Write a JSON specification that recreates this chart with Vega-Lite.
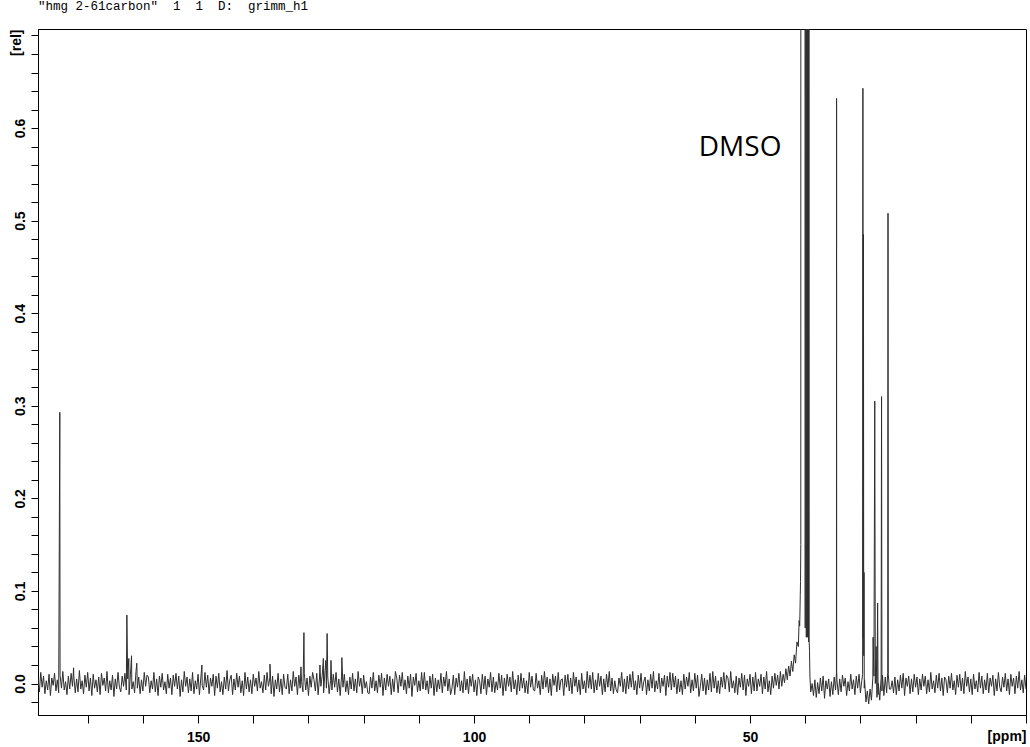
{
"$schema": "https://vega.github.io/schema/vega-lite/v6.json",
"width": 988,
"height": 686,
"autosize": {"type": "none"},
"padding": {"left": 38, "top": 29, "right": 4, "bottom": 32},
"background": "white",
"title": {"text": "\"hmg 2-61carbon\"\u00a0\u00a01\u00a0\u00a01\u00a0\u00a0D:\u00a0\u00a0grimm_h1", "anchor": "start", "frame": "group", "font": "Liberation Mono", "fontSize": 12.5, "fontWeight": "normal", "color": "black", "offset": 7, "baseline": "alphabetic"},
"config": {"view": {"stroke": "black", "strokeWidth": 1}, "font": "Liberation Sans"},
"data": {"values": [
{"ppm":179,"rel":0.005},{"ppm":178.75,"rel":-0.009},{"ppm":178.5,"rel":0.012},{"ppm":178.25,"rel":-0.004},{"ppm":178,"rel":0.008},{"ppm":177.75,"rel":-0.011},{"ppm":177.5,"rel":0.003},{"ppm":177.25,"rel":-0.007},{"ppm":177,"rel":0.01},{"ppm":176.75,"rel":-0.013},{"ppm":176.5,"rel":0.006},{"ppm":176.25,"rel":-0.002},{"ppm":176,"rel":0.011},{"ppm":175.75,"rel":-0.008},{"ppm":175.5,"rel":0.004},{"ppm":175.25,"rel":-0.01},{"ppm":175,"rel":0.009},{"ppm":174.75,"rel":-0.005},{"ppm":174.5,"rel":0.013},{"ppm":174.25,"rel":-0.007},
{"ppm":174,"rel":0.002},{"ppm":173.75,"rel":-0.012},{"ppm":173.5,"rel":0.008},{"ppm":173.25,"rel":-0.006},{"ppm":173,"rel":0.011},{"ppm":172.75,"rel":-0.003},{"ppm":172.5,"rel":0.007},{"ppm":172.25,"rel":-0.01},{"ppm":172,"rel":0.005},{"ppm":171.75,"rel":-0.009},{"ppm":171.5,"rel":0.014},{"ppm":171.25,"rel":-0.006},{"ppm":171,"rel":0.003},{"ppm":170.75,"rel":-0.011},{"ppm":170.5,"rel":0.009},{"ppm":170.25,"rel":-0.004},{"ppm":170,"rel":0.012},{"ppm":169.75,"rel":-0.008},{"ppm":169.5,"rel":0.006},{"ppm":169.25,"rel":-0.013},
{"ppm":169,"rel":0.01},{"ppm":168.75,"rel":-0.005},{"ppm":168.5,"rel":0.004},{"ppm":168.25,"rel":-0.009},{"ppm":168,"rel":0.007},{"ppm":167.75,"rel":-0.012},{"ppm":167.5,"rel":0.011},{"ppm":167.25,"rel":-0.002},{"ppm":167,"rel":0.006},{"ppm":166.75,"rel":-0.008},{"ppm":166.5,"rel":0.013},{"ppm":166.25,"rel":-0.01},{"ppm":166,"rel":0.003},{"ppm":165.75,"rel":-0.007},{"ppm":165.5,"rel":0.009},{"ppm":165.25,"rel":-0.014},{"ppm":165,"rel":0.005},{"ppm":164.75,"rel":-0.006},{"ppm":164.5,"rel":0.012},{"ppm":164.25,"rel":-0.004},
{"ppm":164,"rel":-0.009},{"ppm":163.75,"rel":0.008},{"ppm":163.5,"rel":-0.003},{"ppm":163.25,"rel":0.011},{"ppm":163,"rel":-0.007},{"ppm":162.75,"rel":0.005},{"ppm":162.5,"rel":-0.012},{"ppm":162.25,"rel":0.01},{"ppm":162,"rel":-0.006},{"ppm":161.75,"rel":0.002},{"ppm":161.5,"rel":-0.01},{"ppm":161.25,"rel":0.013},{"ppm":161,"rel":-0.005},{"ppm":160.75,"rel":0.007},{"ppm":160.5,"rel":-0.011},{"ppm":160.25,"rel":0.004},{"ppm":160,"rel":-0.008},{"ppm":159.75,"rel":0.012},{"ppm":159.5,"rel":-0.003},{"ppm":159.25,"rel":0.009},
{"ppm":159,"rel":0.007},{"ppm":158.75,"rel":-0.01},{"ppm":158.5,"rel":0.003},{"ppm":158.25,"rel":-0.006},{"ppm":158,"rel":0.012},{"ppm":157.75,"rel":-0.009},{"ppm":157.5,"rel":0.005},{"ppm":157.25,"rel":-0.013},{"ppm":157,"rel":0.008},{"ppm":156.75,"rel":-0.004},{"ppm":156.5,"rel":0.011},{"ppm":156.25,"rel":-0.007},{"ppm":156,"rel":0.002},{"ppm":155.75,"rel":-0.011},{"ppm":155.5,"rel":0.01},{"ppm":155.25,"rel":-0.005},{"ppm":155,"rel":0.006},{"ppm":154.75,"rel":-0.012},{"ppm":154.5,"rel":0.009},{"ppm":154.25,"rel":-0.003},
{"ppm":154,"rel":0.011},{"ppm":153.75,"rel":-0.006},{"ppm":153.5,"rel":0.008},{"ppm":153.25,"rel":-0.014},{"ppm":153,"rel":0.004},{"ppm":152.75,"rel":-0.009},{"ppm":152.5,"rel":0.013},{"ppm":152.25,"rel":-0.003},{"ppm":152,"rel":0.007},{"ppm":151.75,"rel":-0.01},{"ppm":151.5,"rel":0.005},{"ppm":151.25,"rel":-0.008},{"ppm":151,"rel":0.012},{"ppm":150.75,"rel":-0.011},{"ppm":150.5,"rel":0.003},{"ppm":150.25,"rel":-0.006},{"ppm":150,"rel":0.01},{"ppm":149.75,"rel":-0.012},{"ppm":149.5,"rel":0.006},{"ppm":149.25,"rel":-0.002},
{"ppm":149,"rel":-0.007},{"ppm":148.75,"rel":0.012},{"ppm":148.5,"rel":-0.004},{"ppm":148.25,"rel":0.009},{"ppm":148,"rel":-0.011},{"ppm":147.75,"rel":0.006},{"ppm":147.5,"rel":-0.003},{"ppm":147.25,"rel":0.01},{"ppm":147,"rel":-0.013},{"ppm":146.75,"rel":0.008},{"ppm":146.5,"rel":-0.005},{"ppm":146.25,"rel":0.011},{"ppm":146,"rel":-0.009},{"ppm":145.75,"rel":0.002},{"ppm":145.5,"rel":-0.012},{"ppm":145.25,"rel":0.007},{"ppm":145,"rel":-0.006},{"ppm":144.75,"rel":0.014},{"ppm":144.5,"rel":-0.008},{"ppm":144.25,"rel":0.004},
{"ppm":144,"rel":0.009},{"ppm":143.75,"rel":-0.012},{"ppm":143.5,"rel":0.005},{"ppm":143.25,"rel":-0.007},{"ppm":143,"rel":0.011},{"ppm":142.75,"rel":-0.004},{"ppm":142.5,"rel":0.008},{"ppm":142.25,"rel":-0.01},{"ppm":142,"rel":0.003},{"ppm":141.75,"rel":-0.013},{"ppm":141.5,"rel":0.012},{"ppm":141.25,"rel":-0.006},{"ppm":141,"rel":0.007},{"ppm":140.75,"rel":-0.009},{"ppm":140.5,"rel":0.004},{"ppm":140.25,"rel":-0.011},{"ppm":140,"rel":0.01},{"ppm":139.75,"rel":-0.003},{"ppm":139.5,"rel":0.006},{"ppm":139.25,"rel":-0.008},
{"ppm":139,"rel":0.013},{"ppm":138.75,"rel":-0.005},{"ppm":138.5,"rel":0.002},{"ppm":138.25,"rel":-0.01},{"ppm":138,"rel":0.009},{"ppm":137.75,"rel":-0.007},{"ppm":137.5,"rel":0.012},{"ppm":137.25,"rel":-0.003},{"ppm":137,"rel":0.006},{"ppm":136.75,"rel":-0.011},{"ppm":136.5,"rel":0.008},{"ppm":136.25,"rel":-0.014},{"ppm":136,"rel":0.004},{"ppm":135.75,"rel":-0.006},{"ppm":135.5,"rel":0.011},{"ppm":135.25,"rel":-0.009},{"ppm":135,"rel":0.005},{"ppm":134.75,"rel":-0.012},{"ppm":134.5,"rel":0.01},{"ppm":134.25,"rel":-0.004},
{"ppm":134,"rel":-0.006},{"ppm":133.75,"rel":0.01},{"ppm":133.5,"rel":-0.011},{"ppm":133.25,"rel":0.004},{"ppm":133,"rel":-0.008},{"ppm":132.75,"rel":0.013},{"ppm":132.5,"rel":-0.003},{"ppm":132.25,"rel":0.007},{"ppm":132,"rel":-0.012},{"ppm":131.75,"rel":0.009},{"ppm":131.5,"rel":-0.005},{"ppm":131.25,"rel":0.002},{"ppm":131,"rel":-0.009},{"ppm":130.75,"rel":0.011},{"ppm":130.5,"rel":-0.007},{"ppm":130.25,"rel":0.006},{"ppm":130,"rel":-0.013},{"ppm":129.75,"rel":0.008},{"ppm":129.5,"rel":-0.004},{"ppm":129.25,"rel":0.012},
{"ppm":129,"rel":0.004},{"ppm":128.75,"rel":-0.008},{"ppm":128.5,"rel":0.011},{"ppm":128.25,"rel":-0.012},{"ppm":128,"rel":0.006},{"ppm":127.75,"rel":-0.003},{"ppm":127.5,"rel":0.009},{"ppm":127.25,"rel":-0.01},{"ppm":127,"rel":0.014},{"ppm":126.75,"rel":-0.005},{"ppm":126.5,"rel":0.007},{"ppm":126.25,"rel":-0.011},{"ppm":126,"rel":0.003},{"ppm":125.75,"rel":-0.007},{"ppm":125.5,"rel":0.01},{"ppm":125.25,"rel":-0.004},{"ppm":125,"rel":0.012},{"ppm":124.75,"rel":-0.009},{"ppm":124.5,"rel":0.005},{"ppm":124.25,"rel":-0.013},
{"ppm":124,"rel":0.008},{"ppm":123.75,"rel":-0.004},{"ppm":123.5,"rel":0.01},{"ppm":123.25,"rel":-0.009},{"ppm":123,"rel":0.003},{"ppm":122.75,"rel":-0.012},{"ppm":122.5,"rel":0.007},{"ppm":122.25,"rel":-0.006},{"ppm":122,"rel":0.011},{"ppm":121.75,"rel":-0.008},{"ppm":121.5,"rel":0.005},{"ppm":121.25,"rel":-0.01},{"ppm":121,"rel":0.013},{"ppm":120.75,"rel":-0.003},{"ppm":120.5,"rel":0.006},{"ppm":120.25,"rel":-0.011},{"ppm":120,"rel":0.009},{"ppm":119.75,"rel":-0.005},{"ppm":119.5,"rel":0.002},{"ppm":119.25,"rel":-0.01},
{"ppm":119,"rel":-0.011},{"ppm":118.75,"rel":0.007},{"ppm":118.5,"rel":-0.005},{"ppm":118.25,"rel":0.012},{"ppm":118,"rel":-0.008},{"ppm":117.75,"rel":0.003},{"ppm":117.5,"rel":-0.01},{"ppm":117.25,"rel":0.009},{"ppm":117,"rel":-0.004},{"ppm":116.75,"rel":0.011},{"ppm":116.5,"rel":-0.013},{"ppm":116.25,"rel":0.006},{"ppm":116,"rel":-0.007},{"ppm":115.75,"rel":0.01},{"ppm":115.5,"rel":-0.003},{"ppm":115.25,"rel":0.008},{"ppm":115,"rel":-0.012},{"ppm":114.75,"rel":0.005},{"ppm":114.5,"rel":-0.009},{"ppm":114.25,"rel":0.013},
{"ppm":114,"rel":0.006},{"ppm":113.75,"rel":-0.01},{"ppm":113.5,"rel":0.009},{"ppm":113.25,"rel":-0.003},{"ppm":113,"rel":0.012},{"ppm":112.75,"rel":-0.007},{"ppm":112.5,"rel":0.004},{"ppm":112.25,"rel":-0.011},{"ppm":112,"rel":0.008},{"ppm":111.75,"rel":-0.005},{"ppm":111.5,"rel":0.01},{"ppm":111.25,"rel":-0.014},{"ppm":111,"rel":0.007},{"ppm":110.75,"rel":-0.002},{"ppm":110.5,"rel":0.011},{"ppm":110.25,"rel":-0.009},{"ppm":110,"rel":0.003},{"ppm":109.75,"rel":-0.008},{"ppm":109.5,"rel":0.012},{"ppm":109.25,"rel":-0.006},
{"ppm":109,"rel":0.012},{"ppm":108.75,"rel":-0.007},{"ppm":108.5,"rel":0.003},{"ppm":108.25,"rel":-0.011},{"ppm":108,"rel":0.008},{"ppm":107.75,"rel":-0.005},{"ppm":107.5,"rel":0.01},{"ppm":107.25,"rel":-0.013},{"ppm":107,"rel":0.006},{"ppm":106.75,"rel":-0.009},{"ppm":106.5,"rel":0.004},{"ppm":106.25,"rel":-0.006},{"ppm":106,"rel":0.011},{"ppm":105.75,"rel":-0.01},{"ppm":105.5,"rel":0.007},{"ppm":105.25,"rel":-0.003},{"ppm":105,"rel":0.013},{"ppm":104.75,"rel":-0.008},{"ppm":104.5,"rel":0.005},{"ppm":104.25,"rel":-0.012},
{"ppm":104,"rel":-0.005},{"ppm":103.75,"rel":0.009},{"ppm":103.5,"rel":-0.012},{"ppm":103.25,"rel":0.006},{"ppm":103,"rel":-0.004},{"ppm":102.75,"rel":0.011},{"ppm":102.5,"rel":-0.008},{"ppm":102.25,"rel":0.003},{"ppm":102,"rel":-0.01},{"ppm":101.75,"rel":0.013},{"ppm":101.5,"rel":-0.007},{"ppm":101.25,"rel":0.005},{"ppm":101,"rel":-0.011},{"ppm":100.75,"rel":0.008},{"ppm":100.5,"rel":-0.003},{"ppm":100.25,"rel":0.01},{"ppm":100,"rel":-0.009},{"ppm":99.75,"rel":0.004},{"ppm":99.5,"rel":-0.013},{"ppm":99.25,"rel":0.007},
{"ppm":99,"rel":0.003},{"ppm":98.75,"rel":-0.011},{"ppm":98.5,"rel":0.01},{"ppm":98.25,"rel":-0.006},{"ppm":98,"rel":0.008},{"ppm":97.75,"rel":-0.012},{"ppm":97.5,"rel":0.005},{"ppm":97.25,"rel":-0.004},{"ppm":97,"rel":0.012},{"ppm":96.75,"rel":-0.009},{"ppm":96.5,"rel":0.007},{"ppm":96.25,"rel":-0.01},{"ppm":96,"rel":0.002},{"ppm":95.75,"rel":-0.007},{"ppm":95.5,"rel":0.011},{"ppm":95.25,"rel":-0.005},{"ppm":95,"rel":0.009},{"ppm":94.75,"rel":-0.013},{"ppm":94.5,"rel":0.006},{"ppm":94.25,"rel":-0.008},
{"ppm":94,"rel":0.01},{"ppm":93.75,"rel":-0.003},{"ppm":93.5,"rel":0.007},{"ppm":93.25,"rel":-0.009},{"ppm":93,"rel":0.013},{"ppm":92.75,"rel":-0.006},{"ppm":92.5,"rel":0.004},{"ppm":92.25,"rel":-0.012},{"ppm":92,"rel":0.009},{"ppm":91.75,"rel":-0.008},{"ppm":91.5,"rel":0.011},{"ppm":91.25,"rel":-0.005},{"ppm":91,"rel":0.006},{"ppm":90.75,"rel":-0.01},{"ppm":90.5,"rel":0.003},{"ppm":90.25,"rel":-0.011},{"ppm":90,"rel":0.012},{"ppm":89.75,"rel":-0.004},{"ppm":89.5,"rel":0.008},{"ppm":89.25,"rel":-0.007},
{"ppm":89,"rel":-0.008},{"ppm":88.75,"rel":0.011},{"ppm":88.5,"rel":-0.005},{"ppm":88.25,"rel":0.003},{"ppm":88,"rel":-0.012},{"ppm":87.75,"rel":0.009},{"ppm":87.5,"rel":-0.006},{"ppm":87.25,"rel":0.013},{"ppm":87,"rel":-0.004},{"ppm":86.75,"rel":0.007},{"ppm":86.5,"rel":-0.01},{"ppm":86.25,"rel":0.005},{"ppm":86,"rel":-0.013},{"ppm":85.75,"rel":0.01},{"ppm":85.5,"rel":-0.002},{"ppm":85.25,"rel":0.008},{"ppm":85,"rel":-0.009},{"ppm":84.75,"rel":0.012},{"ppm":84.5,"rel":-0.007},{"ppm":84.25,"rel":0.004},
{"ppm":84,"rel":0.005},{"ppm":83.75,"rel":-0.013},{"ppm":83.5,"rel":0.009},{"ppm":83.25,"rel":-0.004},{"ppm":83,"rel":0.01},{"ppm":82.75,"rel":-0.008},{"ppm":82.5,"rel":0.006},{"ppm":82.25,"rel":-0.011},{"ppm":82,"rel":0.012},{"ppm":81.75,"rel":-0.003},{"ppm":81.5,"rel":0.007},{"ppm":81.25,"rel":-0.009},{"ppm":81,"rel":0.004},{"ppm":80.75,"rel":-0.012},{"ppm":80.5,"rel":0.011},{"ppm":80.25,"rel":-0.006},{"ppm":80,"rel":0.003},{"ppm":79.75,"rel":-0.01},{"ppm":79.5,"rel":0.013},{"ppm":79.25,"rel":-0.005},
{"ppm":79,"rel":0.009},{"ppm":78.75,"rel":-0.006},{"ppm":78.5,"rel":0.012},{"ppm":78.25,"rel":-0.01},{"ppm":78,"rel":0.004},{"ppm":77.75,"rel":-0.007},{"ppm":77.5,"rel":0.011},{"ppm":77.25,"rel":-0.003},{"ppm":77,"rel":0.008},{"ppm":76.75,"rel":-0.012},{"ppm":76.5,"rel":0.005},{"ppm":76.25,"rel":-0.009},{"ppm":76,"rel":0.01},{"ppm":75.75,"rel":-0.004},{"ppm":75.5,"rel":0.013},{"ppm":75.25,"rel":-0.008},{"ppm":75,"rel":0.006},{"ppm":74.75,"rel":-0.011},{"ppm":74.5,"rel":0.003},{"ppm":74.25,"rel":-0.007},
{"ppm":74,"rel":-0.01},{"ppm":73.75,"rel":0.006},{"ppm":73.5,"rel":-0.003},{"ppm":73.25,"rel":0.012},{"ppm":73,"rel":-0.009},{"ppm":72.75,"rel":0.005},{"ppm":72.5,"rel":-0.011},{"ppm":72.25,"rel":0.008},{"ppm":72,"rel":-0.006},{"ppm":71.75,"rel":0.01},{"ppm":71.5,"rel":-0.004},{"ppm":71.25,"rel":0.013},{"ppm":71,"rel":-0.007},{"ppm":70.75,"rel":0.003},{"ppm":70.5,"rel":-0.012},{"ppm":70.25,"rel":0.009},{"ppm":70,"rel":-0.005},{"ppm":69.75,"rel":0.011},{"ppm":69.5,"rel":-0.008},{"ppm":69.25,"rel":0.002},
{"ppm":69,"rel":0.007},{"ppm":68.75,"rel":-0.012},{"ppm":68.5,"rel":0.004},{"ppm":68.25,"rel":-0.008},{"ppm":68,"rel":0.01},{"ppm":67.75,"rel":-0.005},{"ppm":67.5,"rel":0.013},{"ppm":67.25,"rel":-0.009},{"ppm":67,"rel":0.003},{"ppm":66.75,"rel":-0.006},{"ppm":66.5,"rel":0.011},{"ppm":66.25,"rel":-0.01},{"ppm":66,"rel":0.006},{"ppm":65.75,"rel":-0.003},{"ppm":65.5,"rel":0.009},{"ppm":65.25,"rel":-0.013},{"ppm":65,"rel":0.008},{"ppm":64.75,"rel":-0.004},{"ppm":64.5,"rel":0.012},{"ppm":64.25,"rel":-0.007},
{"ppm":64,"rel":0.011},{"ppm":63.75,"rel":-0.004},{"ppm":63.5,"rel":0.008},{"ppm":63.25,"rel":-0.011},{"ppm":63,"rel":0.005},{"ppm":62.75,"rel":-0.009},{"ppm":62.5,"rel":0.003},{"ppm":62.25,"rel":-0.012},{"ppm":62,"rel":0.01},{"ppm":61.75,"rel":-0.006},{"ppm":61.5,"rel":0.007},{"ppm":61.25,"rel":-0.003},{"ppm":61,"rel":0.012},{"ppm":60.75,"rel":-0.01},{"ppm":60.5,"rel":0.004},{"ppm":60.25,"rel":-0.008},{"ppm":60,"rel":0.011},{"ppm":59.75,"rel":-0.005},{"ppm":59.5,"rel":0.009},{"ppm":59.25,"rel":-0.014},
{"ppm":59,"rel":-0.003},{"ppm":58.75,"rel":0.01},{"ppm":58.5,"rel":-0.008},{"ppm":58.25,"rel":0.006},{"ppm":58,"rel":-0.012},{"ppm":57.75,"rel":0.004},{"ppm":57.5,"rel":-0.007},{"ppm":57.25,"rel":0.011},{"ppm":57,"rel":-0.009},{"ppm":56.75,"rel":0.013},{"ppm":56.5,"rel":-0.005},{"ppm":56.25,"rel":0.008},{"ppm":56,"rel":-0.01},{"ppm":55.75,"rel":0.003},{"ppm":55.5,"rel":-0.011},{"ppm":55.25,"rel":0.007},{"ppm":55,"rel":-0.004},{"ppm":54.75,"rel":0.012},{"ppm":54.5,"rel":-0.006},{"ppm":54.25,"rel":0.009},
{"ppm":54,"rel":0.006},{"ppm":53.75,"rel":-0.009},{"ppm":53.5,"rel":0.013},{"ppm":53.25,"rel":-0.005},{"ppm":53,"rel":0.003},{"ppm":52.75,"rel":-0.01},{"ppm":52.5,"rel":0.008},{"ppm":52.25,"rel":-0.012},{"ppm":52,"rel":0.006},{"ppm":51.75,"rel":-0.004},{"ppm":51.5,"rel":0.011},{"ppm":51.25,"rel":-0.007},{"ppm":51,"rel":0.009},{"ppm":50.75,"rel":-0.013},{"ppm":50.5,"rel":0.005},{"ppm":50.25,"rel":-0.003},{"ppm":50,"rel":0.01},{"ppm":49.75,"rel":-0.011},{"ppm":49.5,"rel":0.007},{"ppm":49.25,"rel":-0.008},
{"ppm":49,"rel":0.012},{"ppm":48.75,"rel":-0.008},{"ppm":48.5,"rel":0.005},{"ppm":48.25,"rel":-0.003},{"ppm":48,"rel":0.01},{"ppm":47.75,"rel":-0.011},{"ppm":47.5,"rel":0.007},{"ppm":47.25,"rel":-0.006},{"ppm":47,"rel":0.013},{"ppm":46.75,"rel":-0.009},{"ppm":46.5,"rel":0.003},{"ppm":46.25,"rel":-0.012},{"ppm":46,"rel":0.008},{"ppm":45.75,"rel":-0.005},{"ppm":45.5,"rel":0.011},{"ppm":45.25,"rel":-0.002},{"ppm":45,"rel":0.009},{"ppm":44.75,"rel":-0.006},{"ppm":44.5,"rel":0.013},{"ppm":44.25,"rel":-0.003},
{"ppm":44,"rel":0.01},{"ppm":43.75,"rel":0.001},
{"ppm":43.5,"rel":0.016},{"ppm":43.25,"rel":0.004},{"ppm":43,"rel":0.019},{"ppm":42.75,"rel":0.008},{"ppm":42.5,"rel":0.024},{"ppm":42.25,"rel":0.013},{"ppm":42,"rel":0.031},{"ppm":41.75,"rel":0.022},{"ppm":41.5,"rel":0.045},{"ppm":41.25,"rel":0.04},{"ppm":41.1,"rel":0.068},{"ppm":41,"rel":0.062},{"ppm":40.9,"rel":0.095},{"ppm":40.85,"rel":0.11},{"ppm":40.8,"rel":0.15},{"ppm":40.75,"rel":6},{"ppm":40.1,"rel":6},{"ppm":40,"rel":0.06},{"ppm":39.9,"rel":6},{"ppm":39.8,"rel":0.05},{"ppm":39.7,"rel":6},{"ppm":39.6,"rel":0.05},{"ppm":39.5,"rel":6},{"ppm":39.4,"rel":0.045},{"ppm":39.35,"rel":6},{"ppm":39.28,"rel":0.045},{"ppm":39.22,"rel":0.035},{"ppm":39.15,"rel":0.008},
{"ppm":39,"rel":-0.009},{"ppm":38.75,"rel":0},{"ppm":38.5,"rel":-0.013},{"ppm":38.25,"rel":0.004},{"ppm":38,"rel":-0.015},{"ppm":37.75,"rel":0.001},{"ppm":37.5,"rel":-0.011},{"ppm":37.25,"rel":0.006},{"ppm":37,"rel":-0.008},{"ppm":36.75,"rel":0.008},{"ppm":36.5,"rel":-0.016},{"ppm":36.25,"rel":0.003},{"ppm":36,"rel":-0.006},{"ppm":35.75,"rel":0.005},{"ppm":35.5,"rel":-0.014},{"ppm":35.25,"rel":0.002},{"ppm":35,"rel":-0.012},{"ppm":34.75,"rel":0.007},{"ppm":34.5,"rel":-0.007},{"ppm":34.34,"rel":0.012},{"ppm":34.32,"rel":0.632},{"ppm":34.3,"rel":0.014},{"ppm":34.25,"rel":0.004},
{"ppm":34,"rel":-0.012},{"ppm":33.75,"rel":0.005},{"ppm":33.5,"rel":-0.009},{"ppm":33.25,"rel":0.009},{"ppm":33,"rel":-0.003},{"ppm":32.75,"rel":0.006},{"ppm":32.5,"rel":-0.013},{"ppm":32.25,"rel":0.002},{"ppm":32,"rel":-0.008},{"ppm":31.75,"rel":0.01},{"ppm":31.5,"rel":-0.006},{"ppm":31.25,"rel":0.004},{"ppm":31,"rel":-0.012},{"ppm":30.75,"rel":0.008},{"ppm":30.5,"rel":-0.005},{"ppm":30.25,"rel":0.01},{"ppm":30,"rel":-0.01},{"ppm":29.75,"rel":0.003},
{"ppm":29.6,"rel":0.01},{"ppm":29.55,"rel":0.643},{"ppm":29.5,"rel":0.05},{"ppm":29.45,"rel":0.485},{"ppm":29.4,"rel":0.03},{"ppm":29.35,"rel":0.12},{"ppm":29.3,"rel":-0.005},{"ppm":29.25,"rel":0.004},{"ppm":29,"rel":-0.02},{"ppm":28.75,"rel":-0.008},{"ppm":28.5,"rel":-0.022},{"ppm":28.25,"rel":-0.006},{"ppm":28,"rel":-0.018},{"ppm":27.75,"rel":0.006},{"ppm":27.7,"rel":0.05},{"ppm":27.55,"rel":0.008},{"ppm":27.4,"rel":0.305},{"ppm":27.3,"rel":0},{"ppm":27.15,"rel":0.04},{"ppm":27,"rel":-0.015},{"ppm":26.88,"rel":0.087},{"ppm":26.8,"rel":-0.012},{"ppm":26.75,"rel":0},{"ppm":26.5,"rel":-0.018},{"ppm":26.25,"rel":0.006},{"ppm":26.17,"rel":0.31},{"ppm":26.1,"rel":-0.008},{"ppm":26,"rel":0.009},{"ppm":25.75,"rel":-0.013},{"ppm":25.5,"rel":0.007},{"ppm":25.25,"rel":-0.01},{"ppm":25.05,"rel":0.012},{"ppm":25,"rel":0.508},{"ppm":24.95,"rel":0.01},{"ppm":24.75,"rel":-0.006},
{"ppm":24.5,"rel":-0.006},{"ppm":24.25,"rel":0.003},{"ppm":24,"rel":-0.01},{"ppm":23.75,"rel":0.007},{"ppm":23.5,"rel":-0.012},{"ppm":23.25,"rel":0.004},{"ppm":23,"rel":-0.008},{"ppm":22.75,"rel":0.009},{"ppm":22.5,"rel":-0.005},{"ppm":22.25,"rel":0.011},{"ppm":22,"rel":-0.013},{"ppm":21.75,"rel":0.006},{"ppm":21.5,"rel":-0.003},{"ppm":21.25,"rel":0.008},{"ppm":21,"rel":-0.011},{"ppm":20.75,"rel":0.005},{"ppm":20.5,"rel":-0.009},{"ppm":20.25,"rel":0.01},{"ppm":20,"rel":-0.004},{"ppm":19.75,"rel":0.007},
{"ppm":19.5,"rel":-0.012},{"ppm":19.25,"rel":0.005},{"ppm":19,"rel":-0.007},{"ppm":18.75,"rel":0.01},{"ppm":18.5,"rel":-0.003},{"ppm":18.25,"rel":0.008},{"ppm":18,"rel":-0.011},{"ppm":17.75,"rel":0.004},{"ppm":17.5,"rel":-0.009},{"ppm":17.25,"rel":0.012},{"ppm":17,"rel":-0.006},{"ppm":16.75,"rel":0.003},{"ppm":16.5,"rel":-0.01},{"ppm":16.25,"rel":0.009},{"ppm":16,"rel":-0.005},{"ppm":15.75,"rel":0.011},{"ppm":15.5,"rel":-0.008},{"ppm":15.25,"rel":0.006},{"ppm":15,"rel":-0.013},{"ppm":14.75,"rel":0.007},
{"ppm":14.5,"rel":0.004},{"ppm":14.25,"rel":-0.01},{"ppm":14,"rel":0.008},{"ppm":13.75,"rel":-0.005},{"ppm":13.5,"rel":0.011},{"ppm":13.25,"rel":-0.007},{"ppm":13,"rel":0.003},{"ppm":12.75,"rel":-0.012},{"ppm":12.5,"rel":0.009},{"ppm":12.25,"rel":-0.004},{"ppm":12,"rel":0.01},{"ppm":11.75,"rel":-0.008},{"ppm":11.5,"rel":0.006},{"ppm":11.25,"rel":-0.011},{"ppm":11,"rel":0.013},{"ppm":10.75,"rel":-0.003},{"ppm":10.5,"rel":0.007},{"ppm":10.25,"rel":-0.009},{"ppm":10,"rel":0.005},{"ppm":9.75,"rel":-0.012},
{"ppm":9.5,"rel":0.01},{"ppm":9.25,"rel":-0.006},{"ppm":9,"rel":0.003},{"ppm":8.75,"rel":-0.009},{"ppm":8.5,"rel":0.012},{"ppm":8.25,"rel":-0.005},{"ppm":8,"rel":0.008},{"ppm":7.75,"rel":-0.011},{"ppm":7.5,"rel":0.004},{"ppm":7.25,"rel":-0.007},{"ppm":7,"rel":0.011},{"ppm":6.75,"rel":-0.01},{"ppm":6.5,"rel":0.006},{"ppm":6.25,"rel":-0.003},{"ppm":6,"rel":0.009},{"ppm":5.75,"rel":-0.013},{"ppm":5.5,"rel":0.005},{"ppm":5.25,"rel":-0.008},{"ppm":5,"rel":0.012},{"ppm":4.75,"rel":-0.004},
{"ppm":4.5,"rel":-0.009},{"ppm":4.25,"rel":0.007},{"ppm":4,"rel":-0.004},{"ppm":3.75,"rel":0.011},{"ppm":3.5,"rel":-0.008},{"ppm":3.25,"rel":0.005},{"ppm":3,"rel":-0.012},{"ppm":2.75,"rel":0.01},{"ppm":2.5,"rel":-0.003},{"ppm":2.25,"rel":0.006},{"ppm":2,"rel":-0.011},{"ppm":1.75,"rel":0.008},{"ppm":1.5,"rel":-0.005},{"ppm":1.25,"rel":0.013},{"ppm":1,"rel":-0.007},{"ppm":0.75,"rel":0.004},{"ppm":0.5,"rel":-0.01},{"ppm":0.25,"rel":0.009},{"ppm":0,"rel":-0.006},
{"ppm":172.55,"rel":0.017},{"ppm":175.05,"rel":0.293},{"ppm":162.9,"rel":0.074},{"ppm":162.55,"rel":0.027},{"ppm":162.05,"rel":0.03},{"ppm":161.1,"rel":0.022},{"ppm":149.3,"rel":0.02},{"ppm":136.97,"rel":0.021},{"ppm":131.36,"rel":0.018},{"ppm":130.82,"rel":0.055},{"ppm":127.92,"rel":0.02},{"ppm":127.3,"rel":0.027},{"ppm":126.85,"rel":0.025},{"ppm":126.62,"rel":0.054},{"ppm":125.92,"rel":0.025},{"ppm":123.95,"rel":0.028}
]},
"encoding": {
  "x": {"field": "ppm", "type": "quantitative",
    "scale": {"domain": [0, 179], "reverse": true, "nice": false, "zero": false},
    "axis": {"values": [0,10,20,30,40,50,60,70,80,90,100,110,120,130,140,150,160,170],
      "labelExpr": "(datum.value == 50 || datum.value == 100 || datum.value == 150) ? datum.label : ''",
      "title": "[ppm]", "titleX": 988, "titleY": 21, "titleAlign": "right", "titleAnchor": "end", "titleBaseline": "middle",
      "titleFont": "Liberation Sans", "titleFontSize": 14, "titleFontWeight": "bold", "titleColor": "black",
      "labelFont": "Liberation Sans", "labelFontSize": 14, "labelFontWeight": "bold", "labelColor": "black",
      "tickColor": "black", "domainColor": "black", "tickSize": 8, "labelPadding": 7, "grid": false,
      "labelFlush": false, "labelOverlap": false, "domainWidth": 1, "tickWidth": 1}},
  "y": {"field": "rel", "type": "quantitative",
    "scale": {"domain": [-0.034, 0.707], "nice": false, "zero": false},
    "axis": {"values": [-0.02,0,0.02,0.04,0.06,0.08,0.1,0.12,0.14,0.16,0.18,0.2,0.22,0.24,0.26,0.28,0.3,0.32,0.34,0.36,0.38,0.4,0.42,0.44,0.46,0.48,0.5,0.52,0.54,0.56,0.58,0.6,0.62,0.64,0.66,0.68,0.7],
      "labelExpr": "(datum.value > -0.001 && datum.value < 0.65 && abs(datum.value*10 - round(datum.value*10)) < 0.01) ? format(datum.value, '.1f') : ''",
      "title": "[rel]", "titleAngle": 270, "titleX": -22, "titleY": 0, "titleAlign": "right", "titleBaseline": "middle",
      "titleFont": "Liberation Sans", "titleFontSize": 14, "titleFontWeight": "bold", "titleColor": "black",
      "labelAngle": 270, "labelAlign": "center", "labelBaseline": "bottom", "labelPadding": 4,
      "labelFont": "Liberation Sans", "labelFontSize": 14, "labelFontWeight": "bold", "labelColor": "black",
      "tickColor": "black", "domainColor": "black", "tickSize": 7, "grid": false,
      "labelFlush": false, "labelOverlap": false, "domainWidth": 1, "tickWidth": 1}}
},
"layer": [
  {"mark": {"type": "line", "clip": true, "color": "#2e2e2e", "strokeWidth": 1, "interpolate": "linear"}},
  {"data": {"values": [{"ppm": 51.8, "rel": 0.578, "label": "DMSO"}]},
   "mark": {"type": "text", "font": "Open Sans", "fontSize": 28, "color": "black", "align": "center", "baseline": "middle"},
   "encoding": {"text": {"field": "label"}}}
]
}
